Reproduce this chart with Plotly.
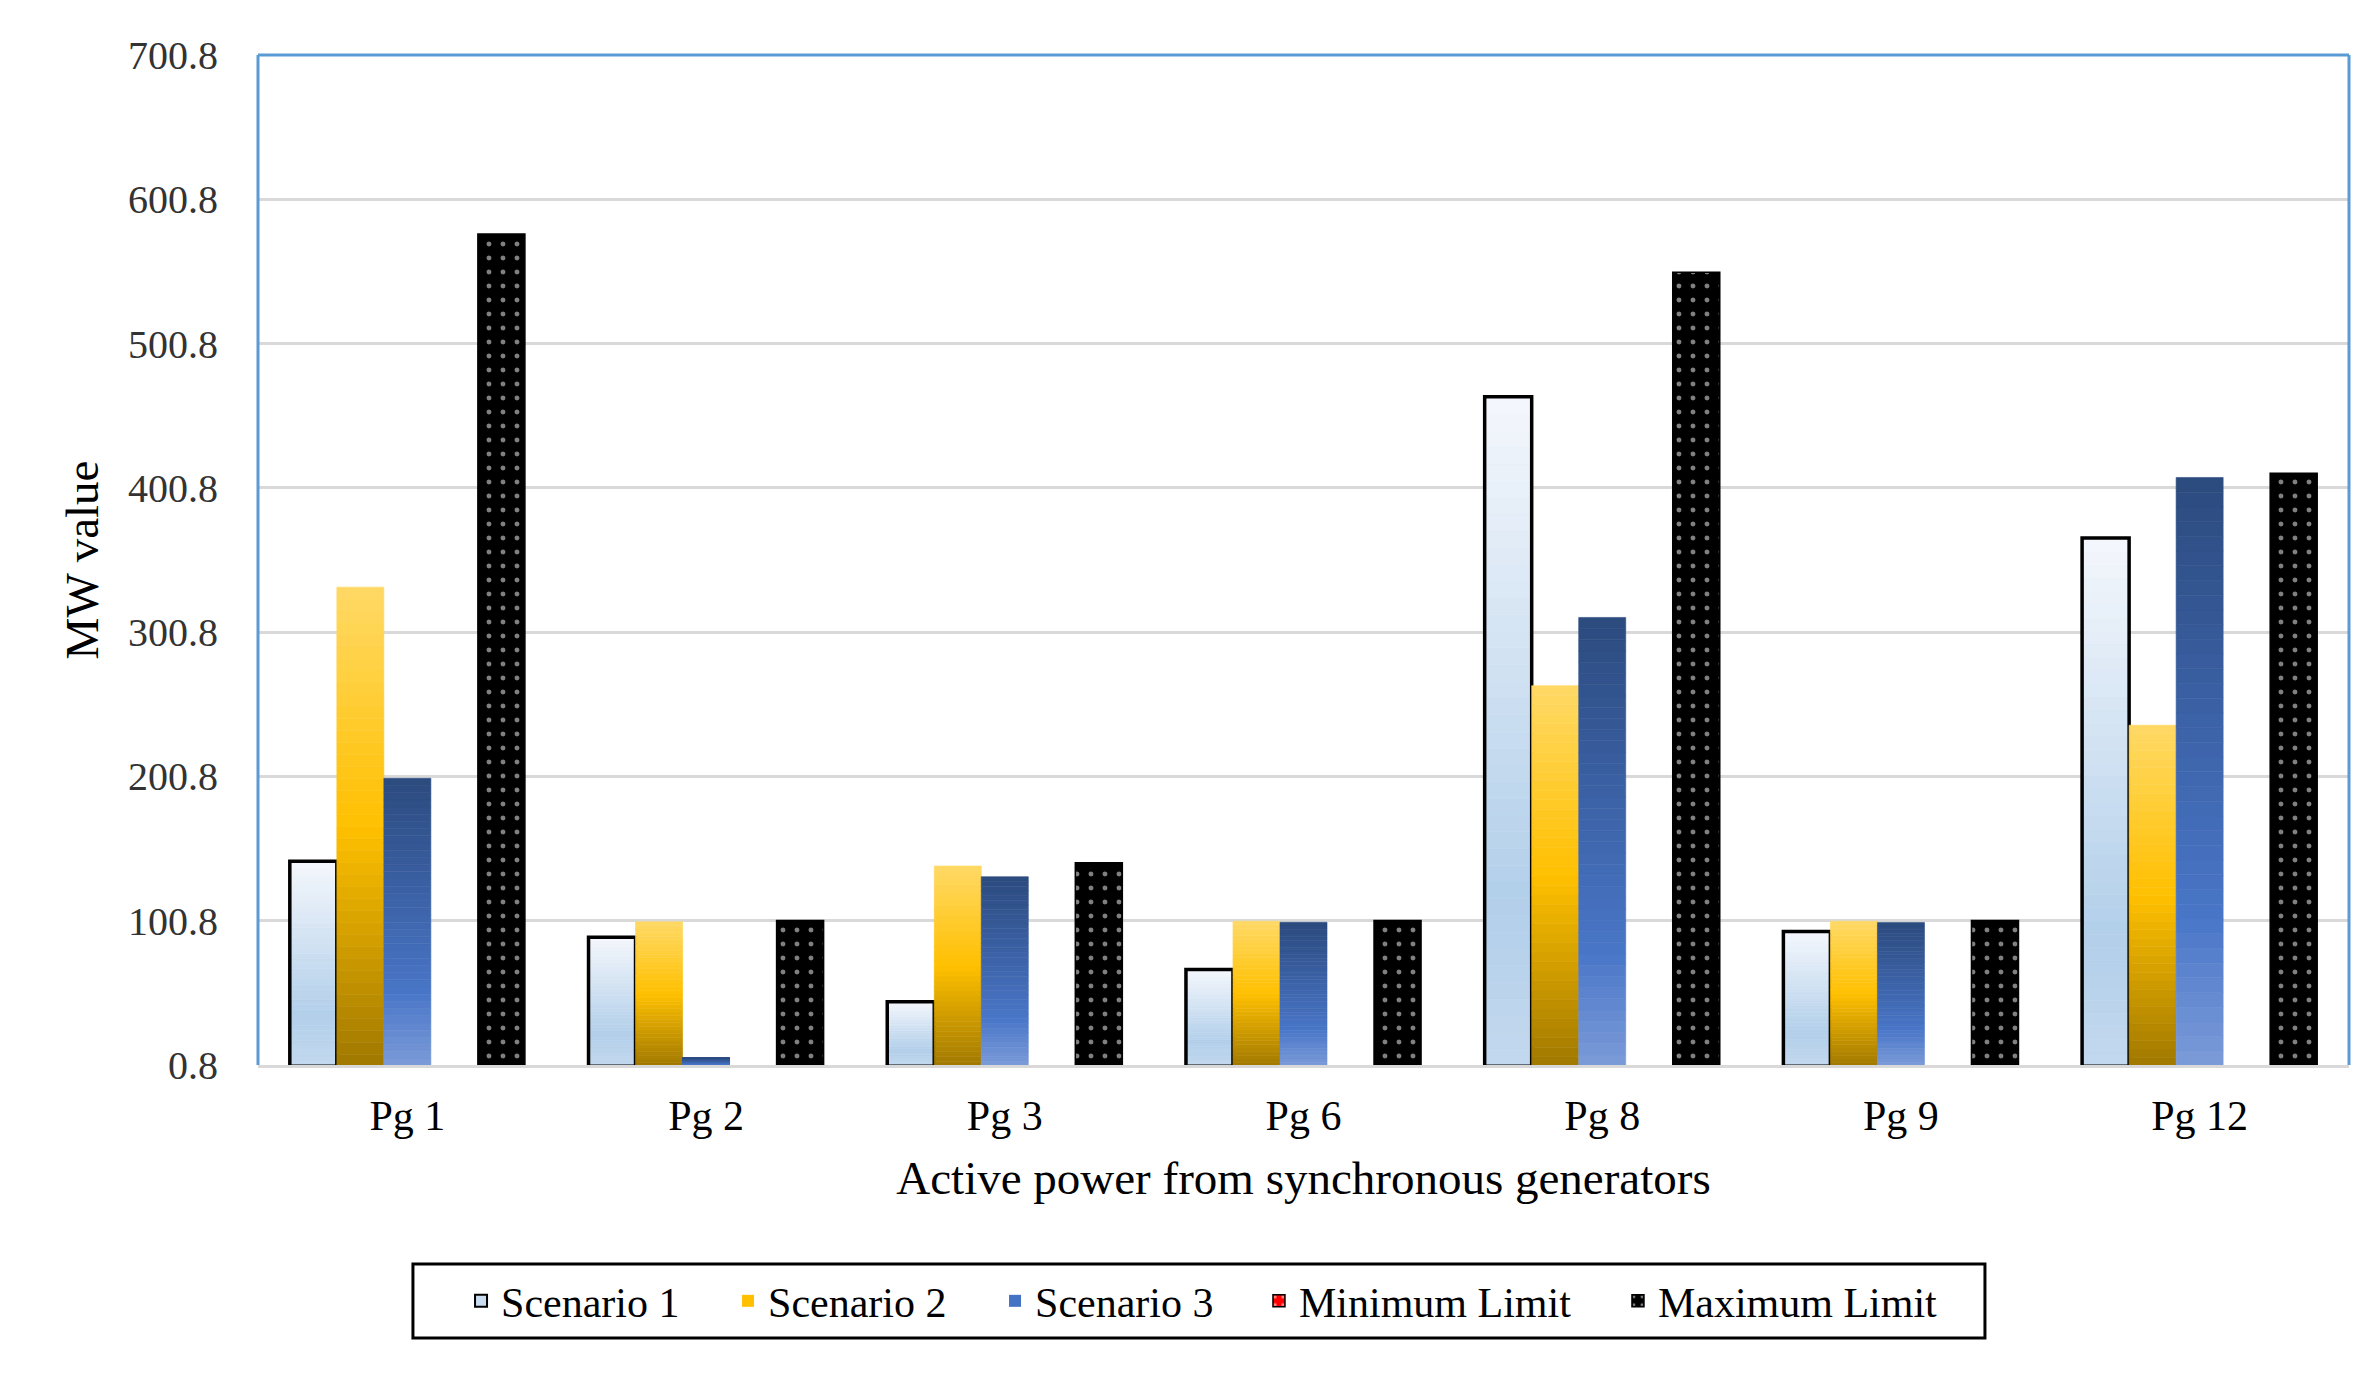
import plotly.graph_objects as go

# ---------------- data ----------------
categories = ["Pg 1", "Pg 2", "Pg 3", "Pg 6", "Pg 8", "Pg 9", "Pg 12"]
scenario_1 = [142.0, 89.3, 44.7, 67.0, 464.0, 93.3, 366.0]
scenario_2 = [332.0, 100.1, 138.7, 100.5, 263.7, 100.5, 236.3]
scenario_3 = [199.5, 6.0, 131.3, 99.7, 311.0, 99.6, 408.0]
minimum_limit = [0, 0, 0, 0, 0, 0, 0]
maximum_limit = [576.7, 101.0, 141.0, 101.0, 550.3, 101.0, 411.0]

y_tick_values = [0.8, 100.8, 200.8, 300.8, 400.8, 500.8, 600.8, 700.8]
y_tick_labels = ["0.8", "100.8", "200.8", "300.8", "400.8", "500.8", "600.8", "700.8"]

# ---------------- styles ----------------
FONT = "Liberation Serif, Times New Roman, serif"
N_SEG = 40  # gradient slices per bar

# gradient stops: (fraction from bottom, rgb)
grad_s1 = [(0.0, (195, 216, 238)), (0.25, (178, 207, 234)), (1.0, (244, 247, 252))]
grad_s2 = [(0.0, (160, 120, 0)), (0.5, (255, 192, 0)), (1.0, (255, 217, 102))]
grad_s3 = [(0.0, (124, 156, 216)), (0.25, (74, 118, 200)), (1.0, (43, 74, 126))]


def grad_color(stops, f):
    for (f0, c0), (f1, c1) in zip(stops[:-1], stops[1:]):
        if f0 <= f <= f1:
            t = (f - f0) / (f1 - f0) if f1 > f0 else 0
            r, g, b = (round(a + (bb - a) * t) for a, bb in zip(c0, c1))
            return f"rgb({r},{g},{b})"
    r, g, b = stops[-1][1]
    return f"rgb({r},{g},{b})"


fig = go.Figure()


def add_gradient_series(values, stops, group, name, legend_color, legend_line, rank, outline=False):
    for k in range(N_SEG):
        col = grad_color(stops, (k + 0.5) / N_SEG)
        fig.add_trace(go.Bar(
            x=categories,
            y=[v / N_SEG for v in values],
            base=[v * k / N_SEG for v in values],
            marker=dict(color=col, line=dict(width=0.6, color=col)),
            offsetgroup=group, alignmentgroup="a",
            showlegend=False, hoverinfo="skip",
        ))
    if outline:
        fig.add_trace(go.Bar(
            x=categories, y=values,
            marker=dict(color="rgba(0,0,0,0)", line=dict(color="black", width=3.5)),
            offsetgroup=group, alignmentgroup="a",
            showlegend=False, hoverinfo="skip",
        ))
    # legend entry
    fig.add_trace(go.Bar(
        x=categories, y=[None] * len(categories), name=name,
        marker=dict(color=legend_color, line=legend_line),
        offsetgroup=group, alignmentgroup="a", legendrank=rank, legend="legend",
    ))


add_gradient_series(scenario_1, grad_s1, "1", "Scenario 1", "#C9DCF0",
                    dict(color="black", width=2), 1, outline=True)
add_gradient_series(scenario_2, grad_s2, "2", "Scenario 2", "#FFC000",
                    dict(width=0), 2)
add_gradient_series(scenario_3, grad_s3, "3", "Scenario 3", "#4472C4",
                    dict(width=0), 3)

fig.add_trace(go.Bar(
    x=categories, y=minimum_limit, name="Minimum Limit",
    marker=dict(color="red", line=dict(color="black", width=1.5),
                pattern=dict(shape=".", fillmode="overlay", bgcolor="red",
                             fgcolor="white", size=10, solidity=0.15)),
    offsetgroup="4", alignmentgroup="a", legendrank=4, legend="legend2",
))
fig.add_trace(go.Bar(
    x=categories, y=maximum_limit, name="Maximum Limit",
    marker=dict(color="black", line=dict(color="black", width=1.5),
                pattern=dict(shape=".", fillmode="overlay", bgcolor="black",
                             fgcolor="white", size=14, solidity=0.1)),
    offsetgroup="5", alignmentgroup="a", legendrank=5, legend="legend2",
))

# plot frame (blue on top / left / right)
frame = "#5B9BD5"
for x0, y0, x1, y1 in [(0, 1, 1, 1), (0, 0, 0, 1), (1, 0, 1, 1)]:
    fig.add_shape(type="line", xref="paper", yref="paper", x0=x0, y0=y0, x1=x1, y1=y1,
                  line=dict(color=frame, width=3), layer="above")

# legend frame box
fig.add_shape(type="rect", xref="paper", yref="paper",
              x0=0.0741, x1=0.8259, y0=-0.2703, y1=-0.1970,
              line=dict(color="black", width=3), fillcolor="rgba(0,0,0,0)", layer="below")

legend_font = dict(family=FONT, size=42, color="black")

fig.update_layout(
    width=2379, height=1386,
    margin=dict(l=250, r=38, t=47, b=329, autoexpand=False),
    paper_bgcolor="white", plot_bgcolor="white",
    barmode="group", bargap=0.213, bargroupgap=0,
    font=dict(family=FONT, color="black"),
    legend=dict(
        orientation="h", x=0.0971, xanchor="left", y=-0.2337, yanchor="middle",
        borderwidth=0, bgcolor="rgba(0,0,0,0)", font=legend_font,
        traceorder="normal", entrywidth=222, entrywidthmode="pixels",
    ),
    legend2=dict(
        orientation="h", x=0.4787, xanchor="left", y=-0.2337, yanchor="middle",
        borderwidth=0, bgcolor="rgba(0,0,0,0)", font=legend_font,
        traceorder="normal", entrywidth=314, entrywidthmode="pixels",
    ),
    xaxis=dict(
        showgrid=False, showline=True, linecolor="#D9D9D9", linewidth=3,
        ticks="", tickfont=dict(family=FONT, size=42, color="black"),
        ticklabelstandoff=12,
        title=dict(text="Active power from synchronous generators",
                   font=dict(family=FONT, size=47, color="black"), standoff=23),
        automargin=False,
    ),
    yaxis=dict(
        range=[0.8, 700.8], tickmode="array", tickvals=y_tick_values, ticktext=y_tick_labels,
        showgrid=True, gridcolor="#D9D9D9", gridwidth=3, zeroline=False,
        showline=False, ticks="", ticklabelstandoff=39,
        tickfont=dict(family=FONT, size=40, color="#333333"),
        title=dict(text="MW value", font=dict(family=FONT, size=47, color="black"), standoff=14),
        automargin=False,
    ),
)

fig.write_html("out.html")
